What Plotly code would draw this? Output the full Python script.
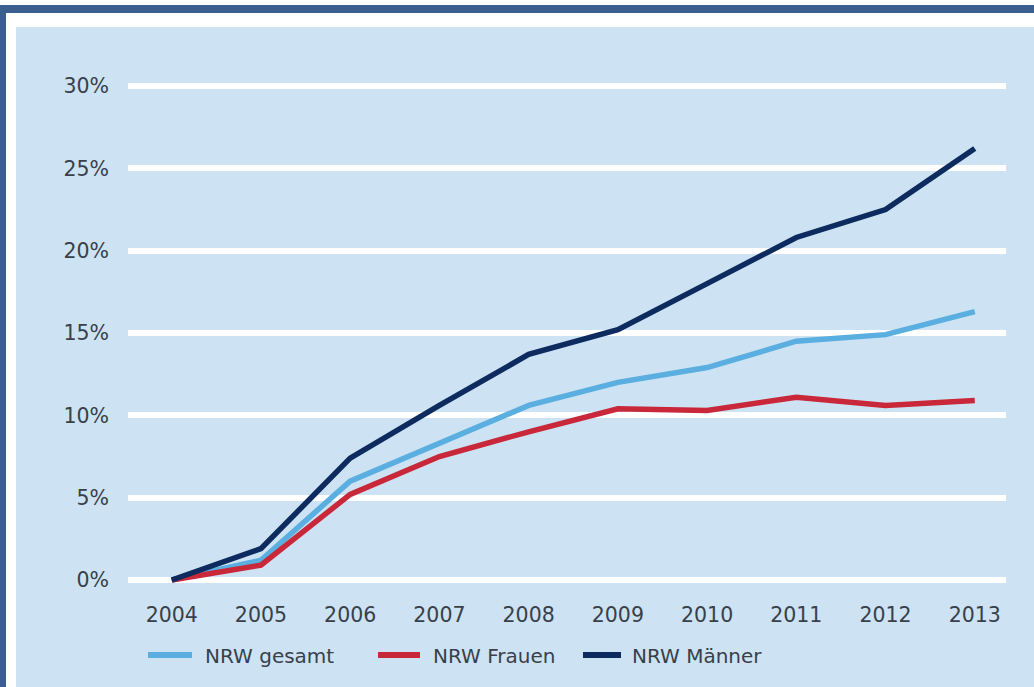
import plotly.graph_objects as go

years = ["2004", "2005", "2006", "2007", "2008", "2009", "2010", "2011", "2012", "2013"]
gesamt = [0.0, 1.2, 6.0, 8.3, 10.6, 12.0, 12.9, 14.5, 14.9, 16.3]
frauen = [0.0, 0.9, 5.2, 7.5, 9.0, 10.4, 10.3, 11.1, 10.6, 10.9]
maenner = [0.0, 1.9, 7.4, 10.6, 13.7, 15.2, 18.0, 20.8, 22.5, 26.2]
y_ticks = [0, 5, 10, 15, 20, 25, 30]
y_tick_labels = ["0%", "5%", "10%", "15%", "20%", "25%", "30%"]
series_names = ["NRW gesamt", "NRW Frauen", "NRW Männer"]
series_colors = ["#5aaee0", "#c8283a", "#0d2b5e"]

W, H = 1034, 687
L, R, T, B = 128, 1006, 80, 586

def px(x):
    return (x - L) / (R - L)

def py(y):
    return (B - y) / (B - T)

fig = go.Figure()
for name, vals, col in zip(series_names, [gesamt, frauen, maenner], series_colors):
    fig.add_trace(go.Scatter(x=years, y=vals, mode="lines", name=name,
                             line=dict(color=col, width=5.5), showlegend=False))

shapes = [
    # panel background
    dict(type="rect", xref="paper", yref="paper", x0=px(16), x1=px(W), y0=py(H), y1=py(27),
         fillcolor="#cde3f3", line=dict(width=0), layer="below"),
    # navy frame top
    dict(type="rect", xref="paper", yref="paper", x0=px(0), x1=px(W), y0=py(13), y1=py(5),
         fillcolor="#3a5e8d", line=dict(width=0), layer="below"),
    # navy frame left
    dict(type="rect", xref="paper", yref="paper", x0=px(0), x1=px(6), y0=py(H), y1=py(5),
         fillcolor="#3a5e8d", line=dict(width=0), layer="below"),
]
annotations = []
leg_line = [(148, 192), (378, 420), (583, 621)]
leg_text = [203, 431, 630]
for name, col, (x0, x1), xt in zip(series_names, series_colors, leg_line, leg_text):
    shapes.append(dict(type="line", xref="paper", yref="paper", x0=px(x0), x1=px(x1),
                       y0=py(655), y1=py(655), line=dict(color=col, width=6)))
    annotations.append(dict(text=name, xref="paper", yref="paper", x=px(xt), y=py(656),
                            xanchor="left", yanchor="middle", showarrow=False,
                            font=dict(family="DejaVu Sans", size=20, color="#38404a")))

fig.update_layout(
    width=W, height=H,
    margin=dict(l=L, r=W - R, t=T, b=H - B, pad=0),
    paper_bgcolor="white", plot_bgcolor="rgba(0,0,0,0)",
    shapes=shapes, annotations=annotations,
    font=dict(family="DejaVu Sans", size=20, color="#38404a"),
    xaxis=dict(type="category", range=[-0.49, 9.35], showgrid=False, zeroline=False,
               showline=False, ticks="", ticklabelstandoff=14,
               tickfont=dict(size=20.5, color="#38404a")),
    yaxis=dict(range=[-6 / 16.45, 30 + 6 / 16.45], tickvals=y_ticks, ticktext=y_tick_labels,
               showgrid=True, gridcolor="white", gridwidth=6, zeroline=False,
               showline=False, ticks="", ticklabelstandoff=18,
               tickfont=dict(size=20.5, color="#38404a")),
)
fig.write_html("out.html", config={"displayModeBar": False},
               post_script="document.body.style.margin='0';document.body.style.overflow='hidden';")
